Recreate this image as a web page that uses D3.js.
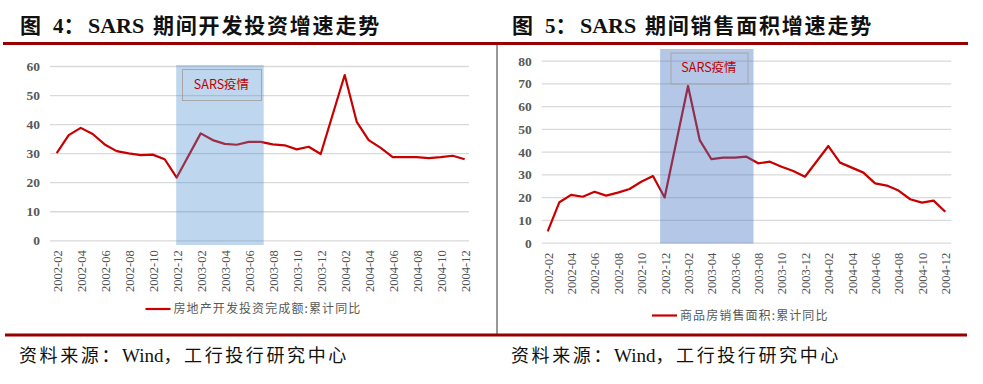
<!DOCTYPE html>
<meta charset="utf-8">
<style>
body{ margin:0; background:#fff; }
svg{ display:block; }
.tick line{ stroke:#d9d9d9; stroke-width:1.3px; }
.yax text{ font-family:"Liberation Serif",serif; font-weight:bold; font-size:13.5px; fill:#595959; }
.xax text{ font-family:"Liberation Serif",serif; font-size:12.5px; fill:#505050; }
.ttl{ font-family:"Liberation Serif","Noto Sans CJK SC",serif; font-weight:bold; font-size:21px; fill:#111; }
.src{ font-family:"Liberation Serif","Noto Sans CJK SC",serif; font-size:18px; fill:#111; }
.src .cjk{ letter-spacing:2.6px; }
.src .lat{ font-size:19px; }
.lgd{ font-family:"Noto Sans CJK SC",sans-serif; font-size:12px; fill:#595959; letter-spacing:1.1px; }
.box{ font-family:"Noto Sans CJK SC",sans-serif; font-size:12.5px; fill:#c00000; }
</style>
<body>
<script src="https://cdn.jsdelivr.net/npm/d3@7"></script>
<script>

// months with data (Jan is merged into Feb, so no January points)
var months = [
  "2002-02","2002-03","2002-04","2002-05","2002-06","2002-07","2002-08","2002-09","2002-10","2002-11","2002-12",
  "2003-02","2003-03","2003-04","2003-05","2003-06","2003-07","2003-08","2003-09","2003-10","2003-11","2003-12",
  "2004-02","2004-03","2004-04","2004-05","2004-06","2004-07","2004-08","2004-09","2004-10","2004-11","2004-12"
]

// 房地产开发投资完成额:累计同比 (%)
var investYoY = [
  30.0, 36.2, 38.7, 36.6, 33.0, 30.7, 29.9, 29.3, 29.5, 27.9, 21.6,
  36.8, 34.5, 33.2, 32.9, 33.9, 33.9, 33.0, 32.7, 31.3, 32.2, 29.7,
  56.9, 40.8, 34.5, 31.8, 28.6, 28.6, 28.6, 28.3, 28.6, 29.1, 27.9
]

// 商品房销售面积:累计同比 (%)
var salesYoY = [
  5.0, 17.8, 21.0, 20.2, 22.4, 20.7, 22.0, 23.6, 26.8, 29.3, 19.9,
  68.9, 45.1, 36.7, 37.4, 37.4, 37.8, 34.9, 35.6, 33.4, 31.5, 29.0,
  42.5, 35.2, 33.0, 30.8, 26.1, 25.1, 22.9, 19.1, 17.6, 18.5, 13.6
]

var xTickLabels = [
  "2002-02","2002-04","2002-06","2002-08","2002-10","2002-12",
  "2003-02","2003-04","2003-06","2003-08","2003-10","2003-12",
  "2004-02","2004-04","2004-06","2004-08","2004-10","2004-12"
]

var investTicks = [0, 10, 20, 30, 40, 50, 60]
var salesTicks = [0, 10, 20, 30, 40, 50, 60, 70, 80]
var sarsSpan = ["2002-12", "2003-07"]

function monthIdx(s){
  var p = s.split("-")
  return (+p[0] - 2002) * 12 + (+p[1] - 2)
}

var W = 983, H = 384
var svg = d3.select("body").append("svg").attr("width", W).attr("height", H)

// frame lines
svg.append("line").attr("x1", 3).attr("x2", 968).attr("y1", 43.5).attr("y2", 43.5)
    .style("stroke", "#960000").style("stroke-width", 3)
svg.append("line").attr("x1", 5).attr("x2", 967).attr("y1", 335).attr("y2", 335)
    .style("stroke", "#960000").style("stroke-width", 3)
svg.append("line").attr("x1", 497).attr("x2", 497).attr("y1", 45).attr("y2", 334)
    .style("stroke", "#333").style("stroke-width", 1)

function title(x, num, rest){
  var t = svg.append("text").attr("class", "ttl").attr("y", 33)
  t.append("tspan").attr("x", x).text("图")
  t.append("tspan").attr("x", x + 33).text(num + "：")
  t.append("tspan").attr("x", x + 68).style("font-size", "22px").text("SARS")
  t.append("tspan").attr("x", x + 133).style("letter-spacing", "1.8px").text(rest)
}
title(20, "4", "期间开发投资增速走势")
title(512, "5", "期间销售面积增速走势")

function source(x){
  var t = svg.append("text").attr("class", "src").attr("x", x).attr("y", 362)
  t.append("tspan").attr("class", "cjk").text("资料来源：")
  t.append("tspan").attr("class", "lat").text("Wind")
  t.append("tspan").attr("class", "cjk").text("，工行投行研究中心")
}
source(19)
source(511)

function drawChart(c){
  var g = svg.append("g")
  var x = d3.scaleLinear().domain([0, 34]).range([c.px0, c.px1])
  var y = d3.scaleLinear().domain([0, c.yMax]).range([c.y0, c.yTop])

  var ya = g.append("g").attr("class", "yax")
      .attr("transform", "translate(" + c.gx0 + ",0)")
      .call(d3.axisLeft(y).tickValues(c.ticks).tickSize(-(c.gx1 - c.gx0)).tickPadding(10))
  ya.select(".domain").remove()

  var xa = g.append("g").attr("class", "xax")
      .attr("transform", "translate(0," + c.y0 + ")")
      .call(d3.axisBottom(x).tickValues(xTickLabels.map(monthIdx))
        .tickFormat(function(d, i){ return xTickLabels[i] }).tickSize(0))
  xa.select(".domain").remove()
  xa.selectAll("text")
      .attr("transform", "rotate(-90)")
      .attr("x", -10).attr("y", 0).attr("dy", "0.35em")
      .style("text-anchor", "end")

  var pts = months.map(function(m, i){ return [monthIdx(m), c.vals[i]] })
  g.append("path").datum(pts)
      .attr("d", d3.line().x(function(d){ return x(d[0]) }).y(function(d){ return y(d[1]) }))
      .style("fill", "none").style("stroke", "#c80000").style("stroke-width", 2.2)
      .style("stroke-linejoin", "round")

  // SARS shading, semi transparent over the line
  var sx0 = x(monthIdx(sarsSpan[0])) + c.padL, sx1 = x(monthIdx(sarsSpan[1])) + c.padR
  g.append("rect").attr("x", sx0).attr("width", sx1 - sx0)
      .attr("y", c.shadeTop).attr("height", c.shadeBot - c.shadeTop)
      .style("fill", c.shadeFill).style("opacity", c.shadeOp)

  g.append("rect").attr("x", c.box[0] + 0.5).attr("y", c.box[1] + 0.5)
      .attr("width", c.box[2]).attr("height", c.box[3])
      .style("fill", "none").style("stroke", "#a6a6a6").style("stroke-width", 1)
  g.append("text").attr("class", "box")
      .attr("x", c.box[0] + c.box[2] / 2).attr("y", c.box[1] + c.box[3] / 2)
      .attr("dy", "0.35em").style("text-anchor", "middle").text("SARS疫情")

  g.append("line").attr("x1", c.lg[0]).attr("x2", c.lg[0] + 25).attr("y1", c.lg[1]).attr("y2", c.lg[1])
      .style("stroke", "#c80000").style("stroke-width", 2.2)
  g.append("text").attr("class", "lgd").attr("x", c.lg[0] + 28).attr("y", c.lg[1]).attr("dy", "0.36em")
      .text(c.legend)
}

drawChart({
  vals: investYoY, ticks: investTicks, yMax: 60,
  gx0: 50, gx1: 469, px0: 56.7, px1: 464.7, y0: 240.3, yTop: 66,
  padL: -0.5, padR: 3, shadeTop: 65, shadeBot: 245,
  shadeFill: "#448dcf", shadeOp: 0.35,
  box: [182, 69, 79, 31],
  lg: [145.5, 309], legend: "房地产开发投资完成额:累计同比"
})

drawChart({
  vals: salesYoY, ticks: salesTicks, yMax: 80,
  gx0: 541.7, gx1: 951.3, px0: 547.7, px1: 945.3, y0: 242.7, yTop: 60.7,
  padL: -4.5, padR: 7, shadeTop: 49, shadeBot: 243.5,
  shadeFill: "#4373c3", shadeOp: 0.4,
  box: [670.5, 52.5, 77, 31],
  lg: [652, 315.5], legend: "商品房销售面积:累计同比"
})

</script>
